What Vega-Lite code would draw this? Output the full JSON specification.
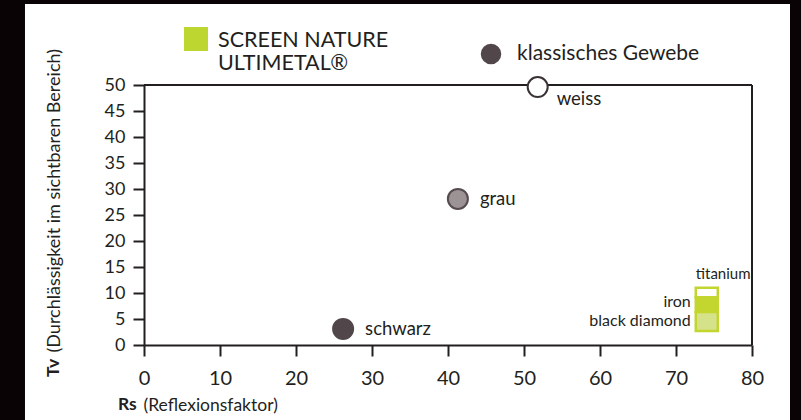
{
  "$schema": "https://vega.github.io/schema/vega-lite/v6.json",
  "width": 608,
  "height": 260,
  "autosize": {"type": "none"},
  "padding": {"left": 144, "top": 85, "right": 49, "bottom": 75},
  "background": "#ffffff",
  "config": {
    "view": {"stroke": null},
    "font": "Lato",
    "text": {"color": "#231f20", "font": "Lato"}
  },
  "resolve": {"scale": {"fill": "independent", "stroke": "independent"}},
  "encoding": {
    "x": {"field": "rs", "type": "quantitative", "scale": {"domain": [0, 80], "nice": false, "zero": false},
      "axis": {"values": [0, 10, 20, 30, 40, 50, 60, 70, 80], "tickCount": 20, "labelOverlap": false, "grid": false, "zindex": 1,
        "domainColor": "#231f20", "domainWidth": 2, "tickColor": "#231f20", "tickWidth": 2, "tickSize": 11,
        "labelFontSize": 20, "labelColor": "#231f20", "labelPadding": 12, "labelFont": "Lato", "labelFlush": false,
        "title": "(Reflexionsfaktor)", "titleFont": "Lato", "titleFontSize": 17.5, "titleFontWeight": "normal", "titleColor": "#231f20",
        "titleAnchor": "start", "titleAlign": "left", "titleBaseline": "alphabetic", "titleX": -1, "titleY": 65}},
    "y": {"field": "tv", "type": "quantitative", "scale": {"domain": [0, 50], "nice": false, "zero": false},
      "axis": {"values": [0, 5, 10, 15, 20, 25, 30, 35, 40, 45, 50], "tickCount": 20, "labelOverlap": false, "grid": false, "zindex": 1,
        "domainColor": "#231f20", "domainWidth": 2, "tickColor": "#231f20", "tickWidth": 2, "tickSize": 11,
        "labelFontSize": 18, "labelColor": "#231f20", "labelPadding": 8, "labelFont": "Lato", "labelFlush": false,
        "title": "(Durchlässigkeit im sichtbaren Bereich)", "titleFont": "Lato", "titleFontSize": 18, "titleFontWeight": "normal", "titleColor": "#231f20",
        "titleAngle": 270, "titleAnchor": "start", "titleAlign": "left", "titleBaseline": "alphabetic", "titleX": -85, "titleY": 267}}
  },
  "datasets": {
    "fabrics": [
      {"name": "weiss", "rs": 51.8, "tv": 49.6},
      {"name": "grau", "rs": 41.3, "tv": 28.1},
      {"name": "schwarz", "rs": 26.2, "tv": 3.1}
    ],
    "ultimetal": [
      {"product": "titanium", "rs": 72.6, "rs_max": 75.5, "tv": 9.2, "tv_max": 11.0},
      {"product": "iron", "rs": 72.6, "rs_max": 75.5, "tv": 6.35, "tv_max": 9.2},
      {"product": "black diamond", "rs": 72.6, "rs_max": 75.5, "tv": 2.7, "tv_max": 6.35}
    ],
    "frame": [
      {"side": "left", "rs": -30, "rs_max": -15.66, "tv": 70, "tv_max": -20},
      {"side": "top", "rs": -30, "rs_max": 90, "tv": 70, "tv_max": 65.58},
      {"side": "right", "rs": 85.0, "rs_max": 90, "tv": 70, "tv_max": -20}
    ],
    "box": [
      {"edge": "top", "rs": 0, "rs_max": 80, "tv": 50, "tv_max": 50},
      {"edge": "right", "rs": 80, "rs_max": 80, "tv": 0, "tv_max": 50}
    ],
    "legend": [
      {"item": "SCREEN NATURE\nULTIMETAL®", "rs": 6.84, "tv": 58.85},
      {"item": "klassisches Gewebe", "rs": 45.66, "tv": 55.96}
    ],
    "titles": [
      {"part": "Rs", "rs": -3.42, "tv": -12.5, "angle": 0},
      {"part": "Tv", "rs": -11.18, "tv": -6.15, "angle": 270}
    ]
  },
  "layer": [
    {
      "data": {"name": "frame"},
      "mark": {"type": "rect", "fill": "#0a0306"},
      "encoding": {"x2": {"field": "rs_max"}, "y2": {"field": "tv_max"}}
    },
    {
      "data": {"name": "box"},
      "mark": {"type": "rule", "color": "#231f20", "strokeWidth": 2},
      "encoding": {"x2": {"field": "rs_max"}, "y2": {"field": "tv_max"}}
    },
    {
      "data": {"name": "fabrics"},
      "mark": {"type": "point", "shape": "circle", "filled": true, "size": 400, "strokeWidth": 2, "opacity": 1},
      "encoding": {
        "fill": {"field": "name", "type": "nominal", "scale": {"domain": ["weiss", "grau", "schwarz"], "range": ["#ffffff", "#9c9395", "#51474a"]}, "legend": null},
        "stroke": {"field": "name", "type": "nominal", "scale": {"domain": ["weiss", "grau", "schwarz"], "range": ["#3a3234", "#564c4f", "#51474a"]}, "legend": null}
      }
    },
    {
      "data": {"name": "fabrics"},
      "transform": [{"filter": "datum.name !== 'weiss'"}],
      "mark": {"type": "text", "align": "left", "baseline": "middle", "dx": 22, "fontSize": 18.5},
      "encoding": {"text": {"field": "name"}}
    },
    {
      "data": {"name": "fabrics"},
      "transform": [{"filter": "datum.name === 'weiss'"}],
      "mark": {"type": "text", "align": "left", "baseline": "middle", "dx": 19, "dy": 12, "fontSize": 18.5},
      "encoding": {"text": {"field": "name"}}
    },
    {
      "data": {"name": "ultimetal"},
      "mark": {"type": "rect", "stroke": "#c3d52f", "strokeWidth": 2.5},
      "encoding": {
        "x2": {"field": "rs_max"},
        "y2": {"field": "tv_max"},
        "fill": {"field": "product", "type": "nominal", "scale": {"domain": ["titanium", "iron", "black diamond"], "range": ["#ffffff", "#c3d52f", "#d5e28a"]}, "legend": null}
      }
    },
    {
      "data": {"name": "ultimetal"},
      "transform": [{"filter": "datum.product !== 'titanium'"}],
      "mark": {"type": "text", "align": "right", "baseline": "middle", "dx": -5, "dy": -10, "fontSize": 16},
      "encoding": {"text": {"field": "product"}}
    },
    {
      "data": {"name": "ultimetal"},
      "transform": [{"filter": "datum.product === 'titanium'"}],
      "mark": {"type": "text", "align": "left", "baseline": "alphabetic", "dy": -9, "fontSize": 15},
      "encoding": {"y": {"field": "tv_max", "type": "quantitative"}, "text": {"field": "product"}}
    },
    {
      "data": {"name": "legend"},
      "transform": [{"filter": "datum.item === 'klassisches Gewebe'"}],
      "mark": {"type": "point", "shape": "circle", "filled": true, "size": 420, "color": "#51474a", "opacity": 1},
      "encoding": {}
    },
    {
      "data": {"name": "legend"},
      "transform": [{"filter": "datum.item !== 'klassisches Gewebe'"}],
      "mark": {"type": "point", "shape": "square", "filled": true, "size": 576, "color": "#bed730", "opacity": 1},
      "encoding": {}
    },
    {
      "data": {"name": "legend"},
      "transform": [{"filter": "datum.item === 'klassisches Gewebe'"}],
      "mark": {"type": "text", "align": "left", "baseline": "middle", "dx": 26, "fontSize": 21},
      "encoding": {"text": {"field": "item"}}
    },
    {
      "data": {"name": "legend"},
      "transform": [{"filter": "datum.item !== 'klassisches Gewebe'"}],
      "mark": {"type": "text", "align": "left", "baseline": "alphabetic", "dx": 22, "dy": 8, "fontSize": 21.5, "lineHeight": 23.5, "lineBreak": "\n"},
      "encoding": {"text": {"field": "item"}}
    },
    {
      "data": {"name": "titles"},
      "mark": {"type": "text", "align": "left", "baseline": "alphabetic", "fontSize": 17.5, "fontWeight": "bold"},
      "encoding": {"text": {"field": "part"}, "angle": {"field": "angle", "type": "quantitative", "scale": null}}
    }
  ]
}
